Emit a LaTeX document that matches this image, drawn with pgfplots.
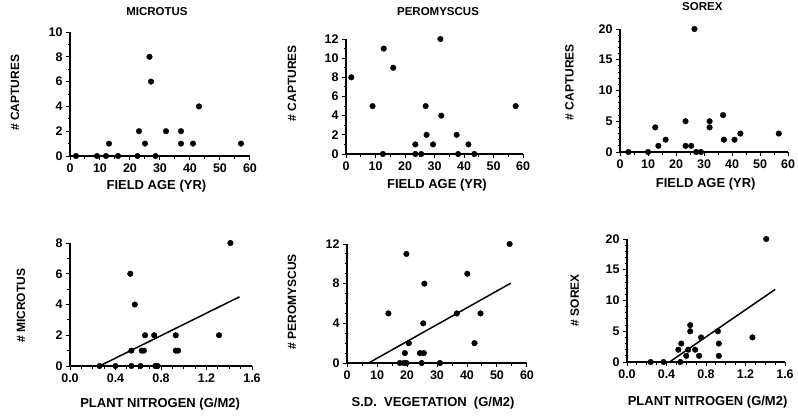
\documentclass[border=0pt]{standalone}
\usepackage{pgfplots}
\pgfplotsset{compat=1.18}
\usepackage{fontspec}
\setmainfont{Liberation Sans}
\pgfplotsset{
  base/.style={
    scale only axis, axis lines=left, axis line style={-, line width=1.2pt},
    enlargelimits=false, clip=false, tick align=outside,
    major tick length=4pt, minor tick length=2.5pt,
    every tick/.style={black, line width=1pt},
    /pgf/number format/assume math mode=true,
    xticklabel={\pgfmathprintnumber{\tick}}, yticklabel={\pgfmathprintnumber{\tick}},
    tick label style={font=\bfseries\fontsize{12.5}{14}\selectfont},
    label style={font=\bfseries\fontsize{13}{15}\selectfont},
    title style={font=\bfseries\fontsize{11.5}{13}\selectfont, anchor=center},
    xlabel style={anchor=center},
    ylabel style={anchor=center, rotate=0},
    xmin=0, ymin=0,
  },
  pts/.style={only marks, mark=*, mark size=2.8pt, black},
  fit/.style={black, line width=1.5pt, no marks},
}
\begin{document}
\begin{tikzpicture}
\useasboundingbox (0,0) rectangle (798pt,416pt);
% P1
\begin{axis}[base, at={(70pt,260pt)}, anchor=south west, width=180pt, height=124pt,
  xmax=60, ymax=10, xtick={0,10,...,60}, ytick={0,2,...,10}, minor x tick num=1, minor y tick num=1,
  title={MICROTUS}, title style={at={(axis description cs:0.483,1.12)}},
  xlabel={FIELD AGE (YR)}, xlabel style={at={(axis description cs:0.48,-0.24)}},
  ylabel={\# CAPTURES}, ylabel style={at={(axis description cs:-0.306,0.51)}, font=\bfseries\fontsize{12}{14}\selectfont}]
\addplot[pts] coordinates {(2,0)(9,0)(12,0)(16,0)(22.5,0)(28.5,0)(13,1)(23,2)(25,1)(26.5,8)(27,6)(32,2)(37,2)(37,1)(41,1)(43,4)(57,1)};
\end{axis}
% P2
\begin{axis}[base, at={(346pt,262pt)}, anchor=south west, width=177pt, height=115pt,
  xmax=60, ymax=12, xtick={0,10,...,60}, ytick={0,2,...,12}, minor x tick num=1, minor y tick num=1,
  title={PEROMYSCUS}, title style={at={(axis description cs:0.52,1.19)}},
  xlabel={FIELD AGE (YR)}, xlabel style={at={(axis description cs:0.514,-0.27)}},
  ylabel={\# CAPTURES}, ylabel style={at={(axis description cs:-0.305,0.617)}, font=\bfseries\fontsize{12}{14}\selectfont}]
\addplot[pts] coordinates {(1.8,8)(9,5)(12.5,0)(12.8,11)(16,9)(23.5,1)(23.5,0)(25.5,0)(27,5)(27.3,2)(29.5,1)(32,12)(32.3,4)(37.5,2)(38,0)(41.5,1)(43.5,0)(57.5,5)};
\end{axis}
% P3
\begin{axis}[base, at={(620pt,264pt)}, anchor=south west, width=168pt, height=123pt,
  xmax=60, ymax=20, xtick={0,10,...,60}, ytick={0,5,...,20}, minor x tick num=1, minor y tick num=4,
  title={SOREX}, title style={at={(axis description cs:0.49,1.13)}},
  xlabel={FIELD AGE (YR)}, xlabel style={at={(axis description cs:0.51,-0.26)}},
  ylabel={\# CAPTURES}, ylabel style={at={(axis description cs:-0.30,0.569)}, font=\bfseries\fontsize{12}{14}\selectfont}]
\addplot[pts] coordinates {(3,0)(10,0)(12.6,4)(13.7,1)(16.3,2)(23.4,5)(23.4,1)(25.4,1)(26.6,20)(27.2,0)(28.9,0)(32,5)(32,4)(36.8,6)(37.1,2)(40.9,2)(43,3)(56.7,3)};
\end{axis}
% P4
\begin{axis}[base, at={(70pt,50pt)}, anchor=south west, width=182pt, height=123pt,
  xmax=1.6, ymax=8, xtick={0,0.4,...,1.6}, ytick={0,2,...,8}, minor x tick num=3, minor y tick num=1,
  xticklabel style={/pgf/number format/.cd, fixed, fixed zerofill, precision=1},
  xlabel={PLANT NITROGEN (G/M2)}, xlabel style={at={(axis description cs:0.495,-0.31)}},
  ylabel={\# MICROTUS}, ylabel style={at={(axis description cs:-0.269,0.488)}, font=\bfseries\fontsize{12}{14}\selectfont}]
\addplot[pts] coordinates {(0.26,0)(0.40,0)(0.54,0)(0.62,0)(0.75,0)(0.77,0)(1.41,8)(0.53,6)(0.57,4)(0.66,2)(0.74,2)(0.93,2)(1.31,2)(0.54,1)(0.63,1)(0.65,1)(0.93,1)(0.95,1)};
\addplot[fit] coordinates {(0.26,0)(1.49,4.5)};
\end{axis}
% P5
\begin{axis}[base, at={(347pt,53pt)}, anchor=south west, width=180pt, height=119pt,
  xmax=60, ymax=12, xtick={0,10,...,60}, ytick={0,4,8,12}, minor x tick num=1, minor y tick num=3,
  xlabel={S.D.\ \ VEGETATION\ \ (G/M2)}, xlabel style={at={(axis description cs:0.478,-0.336)}},
  ylabel={\# PEROMYSCUS}, ylabel style={at={(axis description cs:-0.306,0.513)}, font=\bfseries\fontsize{12}{14}\selectfont}]
\addplot[pts] coordinates {(54.2,12)(19.8,11)(40.1,9)(25.8,8)(13.8,5)(36.6,5)(44.5,5)(25.4,4)(20.6,2)(42.5,2)(19.3,1)(24.3,1)(25.6,1)(17.6,0)(19,0)(19.8,0)(24.9,0)(31,0)};
\addplot[fit] coordinates {(7.2,0)(54.6,8.05)};
\end{axis}
% P6
\begin{axis}[base, at={(627pt,54pt)}, anchor=south west, width=158pt, height=123pt,
  xmax=1.6, ymax=20, xtick={0,0.4,...,1.6}, ytick={0,5,...,20}, minor x tick num=3, minor y tick num=4,
  xticklabel style={/pgf/number format/.cd, fixed, fixed zerofill, precision=1},
  xlabel={PLANT NITROGEN (G/M2)}, xlabel style={at={(axis description cs:0.51,-0.325)}},
  ylabel={\# SOREX}, ylabel style={at={(axis description cs:-0.33,0.504)}, font=\bfseries\fontsize{12}{14}\selectfont}]
\addplot[pts] coordinates {(1.41,20)(1.27,4)(0.64,6)(0.64,5)(0.75,4)(0.92,5)(0.93,3)(0.55,3)(0.52,2)(0.62,2)(0.69,2)(0.60,1)(0.73,1)(0.93,1)(0.24,0)(0.37,0)(0.54,0)};
\addplot[fit] coordinates {(0.43,0)(1.5,11.8)};
\end{axis}
\end{tikzpicture}
\end{document}
